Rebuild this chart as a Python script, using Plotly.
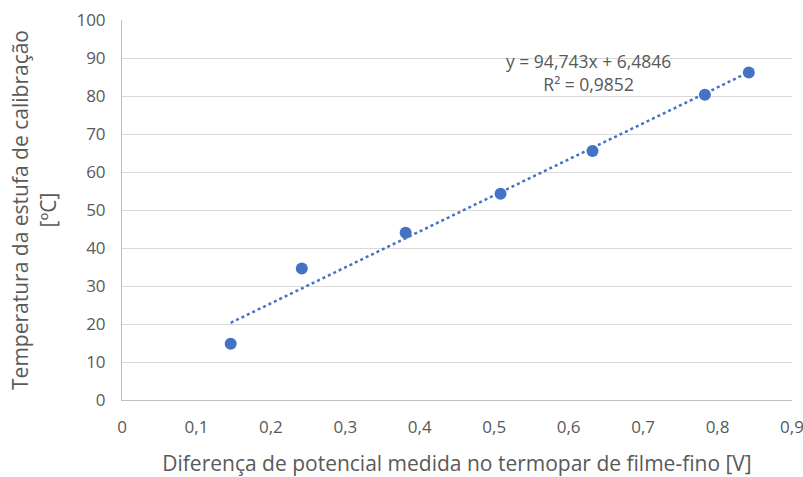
import plotly.graph_objects as go

# Data
voltage_v = [0.146, 0.2415, 0.381, 0.5085, 0.632, 0.783, 0.842]
temperature_c = [14.8, 34.6, 44.0, 54.3, 65.5, 80.3, 86.2]
slope = 94.743
intercept = 6.4846
r2_text = "0,9852"
x_ticks = [0, 0.1, 0.2, 0.3, 0.4, 0.5, 0.6, 0.7, 0.8, 0.9]
x_tick_labels = ["0", "0,1", "0,2", "0,3", "0,4", "0,5", "0,6", "0,7", "0,8", "0,9"]
y_ticks = [0, 10, 20, 30, 40, 50, 60, 70, 80, 90, 100]

blue = "#4472C4"
grey_text = "#595959"
font_family = "Open Sans, Liberation Sans, sans-serif"

x_fit = [min(voltage_v), max(voltage_v)]
y_fit = [slope * x + intercept for x in x_fit]

fig = go.Figure()
fig.add_trace(go.Scatter(
    x=x_fit, y=y_fit, mode="lines",
    line=dict(color=blue, width=2.5, dash="dot"),
    hoverinfo="skip", showlegend=False,
))
fig.add_trace(go.Scatter(
    x=voltage_v, y=temperature_c, mode="markers",
    marker=dict(color=blue, size=12),
    showlegend=False,
))

fig.add_annotation(
    x=0.626, y=86.2, xref="x", yref="y",
    text="y = 94,743x + 6,4846<br>R² = " + r2_text,
    showarrow=False, align="center",
    font=dict(family=font_family, size=17.5, color=grey_text),
)

fig.update_layout(
    width=803, height=477,
    margin=dict(l=122, r=11, t=20, b=77),
    paper_bgcolor="white", plot_bgcolor="white",
    font=dict(family=font_family, size=17, color=grey_text),
    xaxis=dict(
        range=[0, 0.9], tickvals=x_ticks, ticktext=x_tick_labels,
        automargin=False, ticklabeloverflow="allow",
        showgrid=False, zeroline=False,
        showline=True, linecolor="#bfbfbf", linewidth=1,
        ticks="outside", ticklen=12, tickcolor="rgba(0,0,0,0)",
        title=dict(text="Diferença de potencial medida no termopar de filme-fino [V]",
                   font=dict(size=21, color=grey_text), standoff=18),
        tickfont=dict(size=17, color=grey_text),
    ),
    yaxis=dict(
        range=[0, 100], tickvals=y_ticks,
        automargin=False, ticklabeloverflow="allow",
        showgrid=True, gridcolor="#d9d9d9", gridwidth=1,
        zeroline=False,
        showline=True, linecolor="#bfbfbf", linewidth=1,
        ticks="outside", ticklen=12, tickcolor="rgba(0,0,0,0)",
        title=dict(text="Temperatura da estufa de calibração<br>[ºC]",
                   font=dict(size=21, color=grey_text), standoff=14),
        tickfont=dict(size=17, color=grey_text),
    ),
)
fig.write_html("out.html", config={"displayModeBar": False},
               post_script="document.body.style.margin='0';")
